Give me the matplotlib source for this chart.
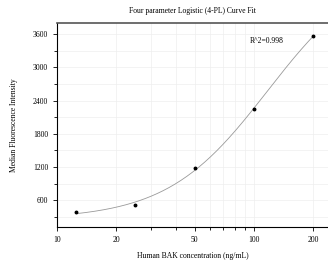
import numpy as np
import matplotlib.pyplot as plt
from matplotlib.ticker import FixedLocator, NullFormatter

plt.rcParams['font.family'] = ['Liberation Serif', 'DejaVu Serif']

# Standard curve data
conc = np.array([12.5, 25, 50, 100, 200])          # ng/mL
mfi = np.array([390, 505, 1177, 2243, 3565])        # median fluorescence intensity
r2_label = "R^2=0.998"

x_major = [10, 20, 50, 100, 200]
x_minor = [30, 40, 60, 70, 80, 90]
y_major = [600, 1200, 1800, 2400, 3000, 3600]
y_minor = [300, 900, 1500, 2100, 2700, 3300]


# 4PL fit: for fixed slope/midpoint the model is linear in bottom/top
def fit_4pl(x, y):
    best = None
    for b in np.linspace(0.5, 4, 141):
        for c in np.logspace(1, 4, 301):
            g = 1.0 / (1.0 + (x / c) ** b)
            A = np.column_stack([g, 1 - g])
            coef, *_ = np.linalg.lstsq(A, y, rcond=None)
            err = np.sum((A @ coef - y) ** 2)
            if best is None or err < best[0]:
                best = (err, coef[0], coef[1], b, c)
    return best[1:]


a, d, b, c = fit_4pl(conc, mfi)
xs = np.logspace(np.log10(conc.min()), np.log10(conc.max()), 200)
ys = d + (a - d) / (1 + (xs / c) ** b)

fig = plt.figure(figsize=(3.28, 2.68), dpi=100)
ax = fig.add_axes([0.174, 0.153, 0.826, 0.761])

ax.plot(xs, ys, color='#999999', lw=0.6, zorder=2)
ax.plot(conc, mfi, 'o', color='black', ms=1.8, zorder=3)

ax.set_xscale('log')
ax.set_xlim(10, 238)
ax.set_ylim(115, 3800)

ax.xaxis.set_major_locator(FixedLocator(x_major))
ax.xaxis.set_minor_locator(FixedLocator(x_minor))
ax.set_xticklabels([str(v) for v in x_major])
ax.xaxis.set_minor_formatter(NullFormatter())
ax.yaxis.set_major_locator(FixedLocator(y_major))
ax.yaxis.set_minor_locator(FixedLocator(y_minor))

ax.tick_params(which='both', direction='out', labelsize=5.5, width=0.6)
ax.tick_params(which='major', length=3)
ax.tick_params(which='minor', length=2)

ax.grid(which='both', color='#eeeeee', lw=0.5)
ax.set_axisbelow(True)

ax.spines['right'].set_visible(False)
ax.spines['top'].set_color('#555555')
ax.spines['top'].set_linewidth(1.2)
ax.spines['left'].set_linewidth(0.8)
ax.spines['bottom'].set_linewidth(0.8)

ax.text(95, 3480, r2_label, fontsize=5.5, va='center', ha='left')

ax.set_title("Four parameter Logistic (4-PL) Curve Fit", fontsize=5.5, pad=7)
ax.set_xlabel("Human BAK concentration (ng/mL)", fontsize=5.5, labelpad=6)
ax.set_ylabel("Median Fluorescence Intensity", fontsize=5.5, labelpad=11)

fig.savefig("out.png", dpi=100)
